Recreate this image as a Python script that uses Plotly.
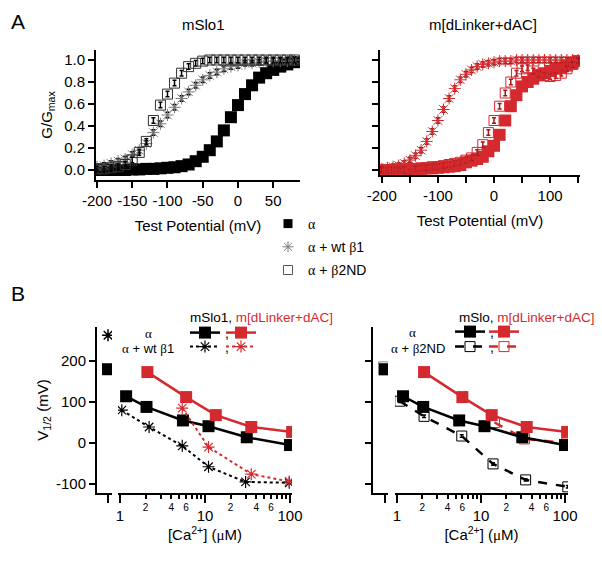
import plotly.graph_objects as go

W, H = 602, 563
OFF = 8  # page body margin of the html page
RED = "#d42a2f"
GREY = "#7a7a7a"
SERIF = "font-family:'Liberation Serif'"

# ---- panel A: G/Gmax vs test potential ----
v_left = [-200, -190, -180, -170, -160, -150, -140, -130, -120, -110, -100, -90, -80, -70,
          -60, -50, -40, -30, -20, -10, 0, 10, 20, 30, 40, 50, 60, 70, 80]
g_slo_a = [0.0, 0.0, 0.0, 0.0, 0.0, 0.005, 0.005, 0.01, 0.01, 0.015, 0.02, 0.025, 0.035, 0.05,
           0.08, 0.12, 0.18, 0.26, 0.36, 0.48, 0.59, 0.69, 0.77, 0.84, 0.88, 0.91, 0.94, 0.96, 0.98]
g_slo_b1 = [0.03, 0.04, 0.06, 0.08, 0.10, 0.14, 0.18, 0.24, 0.34, 0.42, 0.50, 0.57, 0.65, 0.71,
            0.77, 0.82, 0.86, 0.89, 0.92, 0.94, 0.95, 0.97, 0.97, 0.98, 0.99, 0.99, 0.99, 0.99, 1.0]
g_slo_b2 = [0.01, 0.01, 0.02, 0.03, 0.05, 0.09, 0.16, 0.26, 0.45, 0.59, 0.69, 0.79, 0.88, 0.94,
            0.97, 0.99, 1.0, 1.0, 1.0, 1.0, 1.0, 1.0, 1.0, 1.0, 1.0, 1.0, 1.0, 1.0, 1.0]

v_right = [-200, -190, -180, -170, -160, -150, -140, -130, -120, -110, -100, -90, -80, -70,
           -60, -50, -40, -30, -20, -10, 0, 10, 20, 30, 40, 50, 60, 70, 80, 90, 100, 110,
           120, 130, 140, 150]
g_dl_a = [0.0, 0.0, 0.0, 0.0, 0.0, 0.005, 0.01, 0.01, 0.015, 0.015, 0.02, 0.025, 0.03, 0.035,
          0.045, 0.07, 0.085, 0.10, 0.12, 0.17, 0.22, 0.32, 0.45, 0.58, 0.68, 0.76, 0.80, 0.83,
          0.86, 0.88, 0.90, 0.92, 0.93, 0.95, 0.97, 0.99]
g_dl_b1 = [0.01, 0.02, 0.03, 0.04, 0.06, 0.09, 0.13, 0.18, 0.26, 0.35, 0.45, 0.55, 0.65, 0.74,
           0.82, 0.87, 0.91, 0.94, 0.96, 0.97, 0.98, 0.99, 0.99, 0.99, 1.0, 1.0, 1.0, 1.0,
           1.0, 1.0, 1.0, 1.0, 1.0, 1.0, 1.0, 1.0]
g_dl_b2 = [0.0, 0.0, 0.0, 0.01, 0.0, -0.02, 0.01, 0.02, 0.02, 0.03, 0.03, 0.04, 0.05, 0.06,
           0.07, 0.09, 0.11, 0.16, 0.23, 0.34, 0.45, 0.58, 0.70, 0.80, 0.88, 0.92, 0.93, 0.90,
           0.87, 0.86, 0.85, 0.86, 0.88, 0.92, 0.96, 0.99]

g_ticks = [0.0, 0.2, 0.4, 0.6, 0.8, 1.0]
g_ticktext = ["0.0", "0.2", "0.4", "0.6", "0.8", "1.0"]
v_ticks_left = [-200, -150, -100, -50, 0, 50]
v_ticktext_left = ["-200", "-150", "-100", "-50", "0", "50"]
v_ticks_right = [-200, -100, 0, 100]
v_ticktext_right = ["-200", "-100", "0", "100"]

# ---- panel B: V1/2 vs [Ca2+] ----
ca_slo_a = [1.18, 2.05, 5.5, 11, 31, 100]
vh_slo_a = [114, 88, 55, 41, 14, -5]
ca_dl_a = [2.1, 6.0, 13.4, 35, 106]
vh_dl_a = [173, 112, 68, 39, 27]
ca_slo_b1 = [1.05, 2.2, 5.4, 11, 30, 98]
vh_slo_b1 = [80, 39, -7, -58, -95, -97]
ca_dl_b1 = [5.4, 11, 35, 98]
vh_dl_b1 = [85, -10, -76, -94]
ca_slo_b2 = [1.08, 2.1, 5.9, 13.9, 34, 108]
vh_slo_b2 = [102, 65, 17, -51, -90, -107]
ca_dl_b2 = [14.5, 33, 105]
vh_dl_b2 = [50, 10, 0]
# zero-calcium points, drawn on a separate axis segment
ca_zero = [0]
vh0_slo_a = [180]
vh0_slo_b1 = [263]
vh0_slo_b2 = [182]

vh_ticks = [-100, 0, 100, 200]
vh_ticktext = ["-100", "0", "100", "200"]
ca_major = [1, 10, 100]
ca_major_text = ["1", "10", "100"]
ca_minor = [2, 3, 4, 5, 6, 7, 8, 9, 20, 30, 40, 50, 60, 70, 80, 90]
ca_minor_text = ["2", "", "4", "", "6", "", "", "", "2", "", "4", "", "6", "", "", ""]


def px(x):
    return (x - OFF) / W


def py(y):
    return 1 - (y - OFF) / H


fig = go.Figure()

eb_black = dict(type="constant", value=0.025, color="black", thickness=1.5, width=2)
eb_red = dict(type="constant", value=0.025, color="#a01818", thickness=1.5, width=2)

# panel A left
fig.add_trace(go.Scatter(x=v_left, y=g_slo_a, mode="markers", xaxis="x", yaxis="y",
                         marker=dict(symbol="square", size=12, color="black"), showlegend=False))
fig.add_trace(go.Scatter(x=v_left, y=g_slo_b1, mode="markers", xaxis="x", yaxis="y", error_y=eb_black,
                         marker=dict(symbol="asterisk-open", size=10, color=GREY, line=dict(width=1)),
                         showlegend=False))
fig.add_trace(go.Scatter(x=v_left, y=g_slo_b2, mode="markers", xaxis="x", yaxis="y", error_y=eb_black,
                         marker=dict(symbol="square-open", size=10, color="#333", line=dict(width=1)),
                         showlegend=False))
# panel A right
fig.add_trace(go.Scatter(x=v_right, y=g_dl_a, mode="markers", xaxis="x2", yaxis="y2",
                         marker=dict(symbol="square", size=12, color=RED), showlegend=False))
fig.add_trace(go.Scatter(x=v_right, y=g_dl_b1, mode="markers", xaxis="x2", yaxis="y2", error_y=eb_red,
                         marker=dict(symbol="asterisk-open", size=10, color=RED, line=dict(width=1)),
                         showlegend=False))
fig.add_trace(go.Scatter(x=v_right, y=g_dl_b2, mode="markers", xaxis="x2", yaxis="y2", error_y=eb_red,
                         marker=dict(symbol="square-open", size=10, color=RED, line=dict(width=1)),
                         showlegend=False))

# legend of panel A (marker keys only)
fig.add_trace(go.Scatter(x=[None], y=[None], mode="markers", xaxis="x", yaxis="y", legend="legend",
                         legendgroup="a", name="<span style=\"%s\">α</span>" % SERIF,
                         marker=dict(symbol="square", size=9, color="black")))
fig.add_trace(go.Scatter(x=[None], y=[None], mode="markers", xaxis="x", yaxis="y", legend="legend",
                         legendgroup="b1",
                         name="<span style=\"%s\">α</span> + wt <span style=\"%s\">β</span>1" % (SERIF, SERIF),
                         marker=dict(symbol="asterisk-open", size=9, color=GREY, line=dict(width=1))))
fig.add_trace(go.Scatter(x=[None], y=[None], mode="markers", xaxis="x", yaxis="y", legend="legend",
                         legendgroup="b2",
                         name="<span style=\"%s\">α</span> + <span style=\"%s\">β</span>2ND" % (SERIF, SERIF),
                         marker=dict(symbol="square-open", size=9, color="#555", line=dict(width=1))))

eb_small = dict(type="constant", value=3, color="black", thickness=1.5, width=2)

# panel B left
fig.add_trace(go.Scatter(x=ca_slo_a, y=vh_slo_a, mode="lines+markers", xaxis="x3", yaxis="y3",
                         line=dict(color="black", width=2.5),
                         marker=dict(symbol="square", size=12, color="black"),
                         name=",", legend="legend2"))
fig.add_trace(go.Scatter(x=ca_dl_a, y=vh_dl_a, mode="lines+markers", xaxis="x3", yaxis="y3",
                         line=dict(color=RED, width=2.5),
                         marker=dict(symbol="square", size=12, color=RED),
                         name=" ", legend="legend3"))
fig.add_trace(go.Scatter(x=ca_slo_b1, y=vh_slo_b1, mode="lines+markers", xaxis="x3", yaxis="y3",
                         line=dict(color="black", width=2, dash="dot"),
                         marker=dict(symbol="asterisk-open", size=10, color="black", line=dict(width=1.2)),
                         name=",", legend="legend4"))
fig.add_trace(go.Scatter(x=ca_dl_b1, y=vh_dl_b1, mode="lines+markers", xaxis="x3", yaxis="y3",
                         line=dict(color=RED, width=2, dash="dot"),
                         marker=dict(symbol="asterisk-open", size=10, color=RED, line=dict(width=1.2)),
                         name=" ", legend="legend5"))
fig.add_trace(go.Scatter(x=ca_zero, y=vh0_slo_a, mode="markers", xaxis="x4", yaxis="y3",
                         marker=dict(symbol="square", size=12, color="black"), showlegend=False))
fig.add_trace(go.Scatter(x=ca_zero, y=vh0_slo_b1, mode="markers", xaxis="x4", yaxis="y3",
                         marker=dict(symbol="asterisk-open", size=10, color="black", line=dict(width=1.5)),
                         error_y=eb_small, showlegend=False))
# carries the minor-tick overlay axis
fig.add_trace(go.Scatter(x=[None], y=[None], xaxis="x7", yaxis="y3", showlegend=False))

# panel B right
fig.add_trace(go.Scatter(x=ca_zero, y=vh0_slo_b2, mode="markers", xaxis="x6", yaxis="y4",
                         marker=dict(symbol="square-open", size=13, color="#888", line=dict(width=1)),
                         showlegend=False))
fig.add_trace(go.Scatter(x=ca_zero, y=vh0_slo_a, mode="markers", xaxis="x6", yaxis="y4",
                         marker=dict(symbol="square", size=12, color="black"), showlegend=False))
fig.add_trace(go.Scatter(x=ca_slo_b2, y=vh_slo_b2, mode="lines+markers", xaxis="x5", yaxis="y4",
                         line=dict(color="black", width=2.5, dash="dash"), error_y=eb_small,
                         marker=dict(symbol="square-open", size=10, color="black", line=dict(width=1)),
                         name=",", legend="legend8"))
fig.add_trace(go.Scatter(x=ca_dl_b2, y=vh_dl_b2, mode="lines+markers", xaxis="x5", yaxis="y4",
                         line=dict(color=RED, width=2.5, dash="dash"),
                         marker=dict(symbol="square-open", size=10, color=RED, line=dict(width=1)),
                         name=" ", legend="legend9"))
fig.add_trace(go.Scatter(x=ca_slo_a, y=vh_slo_a, mode="lines+markers", xaxis="x5", yaxis="y4",
                         line=dict(color="black", width=2.5),
                         marker=dict(symbol="square", size=12, color="black"),
                         name=",", legend="legend6"))
fig.add_trace(go.Scatter(x=ca_dl_a, y=vh_dl_a, mode="lines+markers", xaxis="x5", yaxis="y4",
                         line=dict(color=RED, width=2.5),
                         marker=dict(symbol="square", size=12, color=RED),
                         name=" ", legend="legend7"))
fig.add_trace(go.Scatter(x=[None], y=[None], xaxis="x8", yaxis="y4", showlegend=False))

axis_style = dict(showline=True, linecolor="black", linewidth=2, ticks="outside", ticklen=6,
                  tickwidth=1.5, tickcolor="black", showgrid=False, zeroline=False,
                  automargin=False, tickfont=dict(size=15, color="black"))
title_font = dict(size=15, color="black")

ca_title = "[Ca<sup>2+</sup>] (<span style=\"%s\">μ</span>M)" % SERIF

fig.update_layout(
    width=W, height=H, margin=dict(l=0, r=0, t=0, b=0),
    paper_bgcolor="white", plot_bgcolor="white",
    font=dict(family="Liberation Sans, Arial, sans-serif", color="black"),
    xaxis=dict(axis_style, domain=[px(96), px(300)], range=[-201.4, 88], anchor="y",
               tickvals=v_ticks_left, ticktext=v_ticktext_left,
               title=dict(text="Test Potential (mV)", font=title_font, standoff=12)),
    yaxis=dict(axis_style, domain=[py(180), py(50)], range=[-0.091, 1.091], anchor="x",
               tickvals=g_ticks, ticktext=g_ticktext,
               title=dict(text="G/G<sub>max</sub>", font=title_font, standoff=8)),
    xaxis2=dict(axis_style, domain=[px(380), px(580)], range=[-203.2, 153.3], anchor="y2",
                tickvals=v_ticks_right, ticktext=v_ticktext_right,
                minor=dict(dtick=50, tick0=0, ticks="outside", ticklen=6, tickwidth=1.5, tickcolor="black"),
                title=dict(text="Test Potential (mV)", font=title_font, standoff=12)),
    yaxis2=dict(axis_style, domain=[py(175), py(50)], range=[-0.0455, 1.091], anchor="x2",
                tickvals=g_ticks, showticklabels=False),
    xaxis3=dict(axis_style, type="log", domain=[px(118), px(292)], range=[-0.0235, 2.0235],
                anchor="y3", tickvals=ca_major, ticktext=ca_major_text, ticklen=8,
                title=dict(text=ca_title, font=title_font, standoff=6)),
    xaxis7=dict(axis_style, type="log", domain=[px(118), px(292)], range=[-0.0235, 2.0235],
                anchor="y3", overlaying="x3", showline=False, tickvals=ca_minor,
                ticktext=ca_minor_text, ticklen=5, tickfont=dict(size=10, color="black")),
    xaxis4=dict(axis_style, domain=[px(97), px(112)], range=[-0.733, 0.267], anchor="y3",
                tickvals=ca_zero, showticklabels=False, ticklen=8),
    yaxis3=dict(axis_style, domain=[py(493), py(327)], range=[-122, 283], anchor="x4",
                tickvals=vh_ticks, ticktext=vh_ticktext,
                title=dict(text="V<sub>1/2</sub> (mV)", font=title_font, standoff=4)),
    xaxis5=dict(axis_style, type="log", domain=[px(395), px(568)], range=[-0.0238, 2.0357],
                anchor="y4", tickvals=ca_major, ticktext=ca_major_text, ticklen=8,
                title=dict(text=ca_title, font=title_font, standoff=6)),
    xaxis8=dict(axis_style, type="log", domain=[px(395), px(568)], range=[-0.0238, 2.0357],
                anchor="y4", overlaying="x5", showline=False, tickvals=ca_minor,
                ticktext=ca_minor_text, ticklen=5, tickfont=dict(size=10, color="black")),
    xaxis6=dict(axis_style, domain=[px(373), px(388)], range=[-0.8, 0.2], anchor="y4",
                tickvals=ca_zero, showticklabels=False, ticklen=8),
    yaxis4=dict(axis_style, domain=[py(493), py(327)], range=[-122, 283], anchor="x6",
                tickvals=vh_ticks, showticklabels=False),
)

leg_common = dict(bgcolor="rgba(0,0,0,0)", borderwidth=0, font=dict(size=14, color="black"),
                  xanchor="left", yanchor="middle")
fig.update_layout(
    legend=dict(leg_common, x=px(268), y=py(208), yanchor="top", tracegroupgap=2),
    legend2=dict(leg_common, x=px(185), y=py(333)),
    legend3=dict(leg_common, x=px(221), y=py(333)),
    legend4=dict(leg_common, x=px(185), y=py(347)),
    legend5=dict(leg_common, x=px(221), y=py(347)),
    legend6=dict(leg_common, x=px(450), y=py(332)),
    legend7=dict(leg_common, x=px(484), y=py(332)),
    legend8=dict(leg_common, x=px(450), y=py(347)),
    legend9=dict(leg_common, x=px(484), y=py(347)),
)


def note(text, x, y, size=13, xanchor="center"):
    fig.add_annotation(text=text, x=px(x), y=py(y), xref="paper", yref="paper", showarrow=False,
                       xanchor=xanchor, yanchor="middle", font=dict(size=size, color="black"))


note("A", 18, 22, size=21)
note("B", 18, 293, size=21)
note("mSlo1", 203, 25, size=15)
note("m[dLinker+dAC]", 483, 25, size=15)
note("mSlo1, <span style=\"color:%s\">m[dLinker+dAC]</span>" % RED, 188, 317, size=13.5, xanchor="left")
note("mSlo, <span style=\"color:%s\">m[dLinker+dAC]</span>" % RED, 457, 317, size=13.5, xanchor="left")
note("<span style=\"%s\">α</span>" % SERIF, 148, 333)
note("<span style=\"%s\">α</span> + wt <span style=\"%s\">β</span>1" % (SERIF, SERIF), 148, 348)
note("<span style=\"%s\">α</span>" % SERIF, 412, 332)
note("<span style=\"%s\">α</span> + <span style=\"%s\">β</span>2ND" % (SERIF, SERIF), 418, 348)

fig.write_html("out.html")
